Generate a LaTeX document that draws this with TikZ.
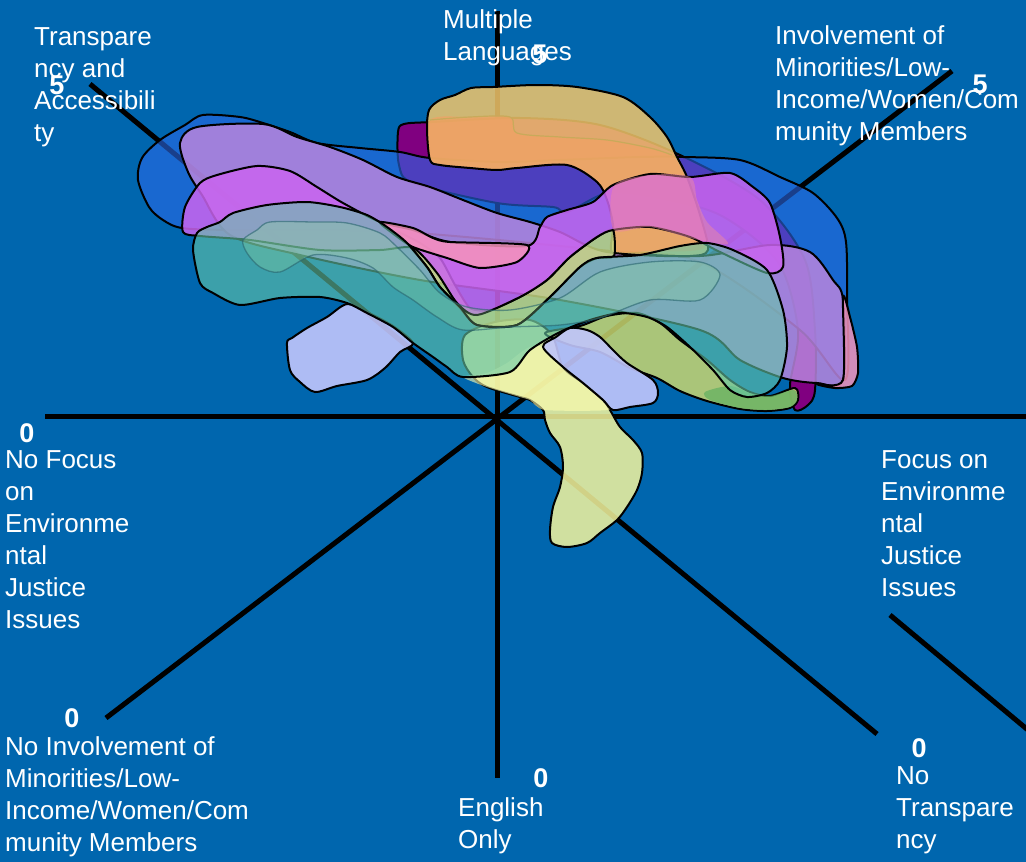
\documentclass[tikz,border=0pt]{standalone}
\usepackage{fontspec}
\setmainfont{Liberation Sans}
\definecolor{bgblue}{RGB}{0,102,174}
\definecolor{cPurple}{RGB}{128,0,128}
\definecolor{cBlue}{RGB}{42,106,232}
\definecolor{cTan}{RGB}{243,198,106}
\definecolor{cOrange}{RGB}{240,162,100}
\definecolor{cOrLine}{RGB}{200,170,90}
\definecolor{cLav}{RGB}{184,133,222}
\definecolor{cPeri}{RGB}{193,198,252}
\definecolor{cTail}{RGB}{245,246,158}
\definecolor{cPale}{RGB}{255,255,176}
\definecolor{cGreen}{RGB}{200,214,112}
\definecolor{cGreenD}{RGB}{96,176,96}
\definecolor{cVband}{RGB}{196,214,130}
\definecolor{cMag}{RGB}{202,100,239}
\definecolor{cPink}{RGB}{245,147,187}
\definecolor{cPinkM}{RGB}{236,136,164}
\definecolor{cTeal}{RGB}{100,200,168}
\definecolor{cInner}{RGB}{144,216,160}
\definecolor{cInnerLine}{RGB}{40,100,110}
\begin{document}
\begin{tikzpicture}[x=1pt,y=-1pt,
  blob/.style={draw=black,line width=2pt,line join=round},
  axisline/.style={line width=5pt,draw=black},
  lbl/.style={text=white,font=\fontsize{26}{32}\selectfont,align=left,anchor=north west,inner sep=0pt},
  num/.style={text=white,font=\fontsize{27}{32}\selectfont\bfseries,inner sep=0pt}]
\fill[bgblue] (0,0) rectangle (1026,862);
\useasboundingbox (0,0) rectangle (1026,862);

% axes
\coordinate (O) at (497,416);
\coordinate (hL) at (45,416); \coordinate (hR) at (1030,416);
\coordinate (vT) at (497,11); \coordinate (vB) at (497,778);
\coordinate (dTL) at (90,84); \coordinate (dBR) at (877,734);
\coordinate (dBL) at (106,718); \coordinate (dTR) at (952,71);
\coordinate (eS) at (890,615); \coordinate (eE) at (1034,735);
\draw[axisline] (hL) -- (hR);
\draw[axisline] (vT) -- (vB);
\draw[axisline] (dTL) -- (dBR);
\draw[axisline] (dBL) -- (dTR);
\draw[axisline] (eS) -- (eE);

% purple
\filldraw[blob,fill=cPurple] plot[smooth cycle,tension=0.5] coordinates {
(398,132) (404,124) (432,122) (520,118) (600,125) (680,155) (760,200) (805,260) (815,330) (815,390) (808,405) (795,410) (790,385) (798,330) (778,262) (720,215) (650,196) (607,193) (567,212) (553,207) (497,203) (413,183) (399,165)};

% blue
\filldraw[blob,fill=cBlue,fill opacity=0.6] plot[smooth cycle,tension=0.5] coordinates {
(203,115) (240,117) (263,123) (290,132) (317,143) (360,148) (400,152) (430,158) (500,162) (560,160) (640,157) (683,157) (740,160) (780,177) (813,193) (837,218) (846,242) (847,300) (845,380) (800,330) (700,262) (600,250) (400,232) (230,230) (182,228) (163,220) (149,207) (138,180) (142,158) (160,140) (185,125)};

% tan + orange
\fill[cTan,fill opacity=0.85] plot[smooth cycle,tension=0.5] coordinates {
(429,110) (440,100) (455,95) (471,88) (493,87) (536,85) (577,87) (623,97) (650,117) (667,137) (677,157) (687,177) (700,215) (708,250) (690,256) (650,255) (613,254) (613,225) (607,200) (597,182) (567,165) (517,168) (497,170) (470,168) (440,165) (430,160) (427,130)};
\fill[cOrange,fill opacity=0.75] plot[smooth cycle,tension=0.5] coordinates {
(430,120) (470,117) (510,117) (517,133) (560,137) (607,140) (650,148) (672,155) (682,170) (690,185) (700,215) (706,245) (690,251) (650,251) (615,251) (614,225) (607,200) (597,182) (567,165) (517,168) (497,170) (470,168) (440,165) (431,160)};
\draw[cOrLine,line width=1.2pt] plot[smooth,tension=0.5] coordinates {(430,120) (470,117) (510,117) (517,133) (560,137) (607,140) (650,148) (672,155)};
\draw[blob] plot[smooth cycle,tension=0.5] coordinates {
(429,110) (440,100) (455,95) (471,88) (493,87) (536,85) (577,87) (623,97) (650,117) (667,137) (677,157) (687,177) (700,215) (708,250) (690,256) (650,255) (613,254) (613,225) (607,200) (597,182) (567,165) (517,168) (497,170) (470,168) (440,165) (430,160) (427,130)};

% lavender
\filldraw[blob,fill=cLav,fill opacity=0.85] plot[smooth cycle,tension=0.5] coordinates {
(180,143) (197,127) (263,124) (297,137) (330,147) (363,160) (397,177) (430,187) (463,200) (497,213) (530,222) (560,232) (607,252) (700,256) (770,245) (810,252) (833,280) (843,300) (843,380) (817,383) (783,378) (740,360) (700,330) (560,300) (420,280) (300,255) (230,235) (202,195) (188,172)};

% periwinkle left
\filldraw[blob,fill=cPeri,fill opacity=0.9] plot[smooth cycle,tension=0.5] coordinates {
(287,343) (292,338) (307,328) (327,317) (347,304) (367,312) (393,326) (413,343) (400,352) (385,368) (367,380) (337,386) (315,392) (300,382) (290,370)};

% tail
\filldraw[blob,fill=cTail,fill opacity=0.85] plot[smooth cycle,tension=0.5] coordinates {
(465,335) (495,322) (530,320) (552,335) (563,367) (583,383) (603,400) (610,410) (620,427) (633,440) (642,453) (642,473) (637,490) (627,507) (617,520) (600,533) (587,543) (567,547) (552,543) (550,530) (553,507) (560,487) (563,467) (560,447) (550,433) (545,420) (543,410) (530,400) (520,397) (487,387) (473,377) (463,360)};
\fill[cPale,fill opacity=0.6] plot[smooth cycle,tension=0.4] coordinates {
(463,377) (487,373) (507,363) (520,353) (530,347) (543,347) (563,367) (583,383) (603,400) (608,410) (545,410) (530,400) (520,397) (487,387)};

% green
\filldraw[blob,fill=cGreen,fill opacity=0.85] plot[smooth cycle,tension=0.5] coordinates {
(545,333) (580,326) (607,316) (637,313) (660,323) (680,340) (707,360) (730,380) (750,392) (770,396) (795,388) (798,400) (790,408) (767,411) (740,409) (707,401) (680,391) (657,378) (630,368) (600,352) (570,345)};
\fill[cGreenD,fill opacity=0.7] plot[smooth cycle,tension=0.5] coordinates {
(705,392) (730,386) (750,393) (770,396) (794,390) (797,400) (790,407) (767,410) (740,408) (710,400)};

% periwinkle right
\filldraw[blob,fill=cPeri,fill opacity=0.9] plot[smooth cycle,tension=0.5] coordinates {
(543,347) (556,337) (570,328) (587,330) (600,337) (613,350) (627,363) (653,380) (658,393) (653,403) (630,407) (613,410) (603,400) (583,383) (563,367)};

% V band
\filldraw[blob,fill=cVband,fill opacity=0.85] plot[smooth cycle,tension=0.4] coordinates {
(398,232) (420,243) (440,258) (455,285) (470,308) (490,310) (520,297) (547,280) (570,257) (597,237) (613,230) (614,256) (597,258) (580,267) (550,297) (517,325) (477,325) (460,308) (440,287) (427,267) (407,243)};

% magenta
\filldraw[blob,fill=cMag,fill opacity=0.85] plot[smooth cycle,tension=0.45] coordinates {
(183,232) (185,207) (200,183) (217,175) (257,166) (290,171) (317,187) (343,203) (380,222) (413,230) (450,242) (527,246) (540,227) (547,217) (567,210) (593,202) (613,185) (650,174) (690,177) (730,173) (753,187) (770,203) (780,237) (783,267) (767,273) (720,252) (690,237) (650,227) (613,230) (597,237) (570,257) (547,280) (520,297) (477,315) (457,303) (437,273) (413,248) (380,250) (320,250) (250,240) (200,236)};

% pink
\filldraw[blob,fill=cPink,fill opacity=0.85] plot[smooth cycle,tension=0.4] coordinates {
(380,222) (413,228) (433,238) (450,242) (527,245) (517,262) (480,268) (447,258) (413,247) (395,235)};
\fill[cPinkM,fill opacity=0.5] plot[smooth cycle,tension=0.5] coordinates {
(614,186) (650,175) (690,177) (697,200) (707,222) (728,244) (690,238) (650,227) (614,230)};
\filldraw[blob,fill=cPink,fill opacity=0.85] plot[smooth cycle,tension=0.4] coordinates {
(843,297) (850,317) (857,347) (858,373) (852,386) (835,388) (817,384) (843,380)};

% teal
\filldraw[blob,fill=cTeal,fill opacity=0.6] plot[smooth cycle,tension=0.45] coordinates {
(193,250) (197,233) (207,227) (220,222) (233,213) (267,205) (307,202) (340,207) (367,215) (387,227) (407,243) (427,267) (440,287) (460,307) (477,325) (517,325) (550,297) (580,267) (597,258) (640,255) (680,246) (707,243) (733,250) (767,270) (783,310) (787,347) (780,380) (767,393) (747,397) (730,390) (713,370) (690,347) (667,327) (647,317) (620,313) (590,320) (560,332) (530,350) (510,372) (463,377) (447,367) (433,357) (413,343) (393,327) (367,313) (347,303) (320,297) (280,298) (240,305) (213,293) (200,283)};
\filldraw[draw=cInnerLine,draw opacity=0.6,line width=1.3pt,fill=cInner,fill opacity=0.3] plot[smooth cycle,tension=0.5] coordinates {
(243,240) (257,230) (270,222) (313,222) (347,223) (380,233) (397,247) (420,270) (440,293) (467,307) (510,310) (560,298) (600,272) (650,262) (700,262) (720,275) (700,300) (650,300) (600,318) (560,325) (510,327) (463,330) (437,317) (413,300) (393,287) (373,268) (347,258) (313,255) (280,272) (260,267) (247,253)};

% labels
\node[lbl] (lTA) at (34,22.6) {\strut Transpare\\ncy and\\Accessibili\\ty};
\node[lbl] (lML) at (443,5.6) {\strut Multiple\\Languages};
\node[lbl] (lIM) at (775,21.6) {\strut Involvement of\\Minorities/Low-\\Income/Women/Com\\munity Members};
\node[lbl] (lNF) at (5,445.6) {\strut No Focus\\on\\Environme\\ntal\\Justice\\Issues};
\node[lbl] (lFE) at (881,445.6) {\strut Focus on\\Environme\\ntal\\Justice\\Issues};
\node[lbl] (lNI) at (5,732.6) {\strut No Involvement of\\Minorities/Low-\\Income/Women/Com\\munity Members};
\node[lbl] (lEO) at (458,793.6) {\strut English\\Only};
\node[lbl] (lNT) at (896,761.6) {\strut No\\Transpare\\ncy};

\node[num] (n5a) at (57,85) {5};
\node[num] (n5b) at (540,54) {5};
\node[num] (n5c) at (980,84) {5};
\node[num] (n0a) at (27,433) {0};
\node[num] (n0b) at (72,718) {0};
\node[num] (n0c) at (541,778) {0};
\node[num] (n0d) at (919,748) {0};
\end{tikzpicture}
\end{document}
